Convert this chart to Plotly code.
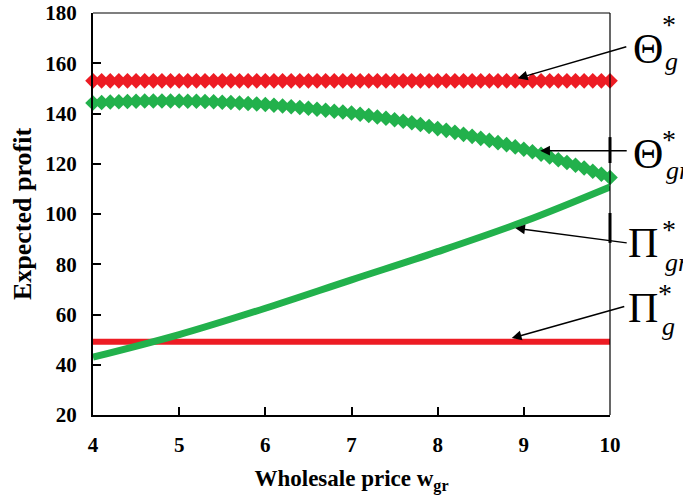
import plotly.graph_objects as go

# ---- data ----
x_fine = [4.0, 4.1, 4.2, 4.3, 4.4, 4.5, 4.6, 4.7, 4.8, 4.9,
          5.0, 5.1, 5.2, 5.3, 5.4, 5.5, 5.6, 5.7, 5.8, 5.9,
          6.0, 6.1, 6.2, 6.3, 6.4, 6.5, 6.6, 6.7, 6.8, 6.9,
          7.0, 7.1, 7.2, 7.3, 7.4, 7.5, 7.6, 7.7, 7.8, 7.9,
          8.0, 8.1, 8.2, 8.3, 8.4, 8.5, 8.6, 8.7, 8.8, 8.9,
          9.0, 9.1, 9.2, 9.3, 9.4, 9.5, 9.6, 9.7, 9.8, 9.9, 10.0]

theta_g = [153, 153, 153, 153, 153, 153, 153, 153, 153, 153,
           153, 153, 153, 153, 153, 153, 153, 153, 153, 153,
           153, 153, 153, 153, 153, 153, 153, 153, 153, 153,
           153, 153, 153, 153, 153, 153, 153, 153, 153, 153,
           153, 153, 153, 153, 153, 153, 153, 153, 153, 153,
           153, 153, 153, 153, 153, 153, 153, 153, 153, 153, 153]

theta_gr = [144.2, 144.4, 144.6, 144.7, 144.8, 144.9, 145.0, 145.0, 145.0, 145.0,
            145.0, 144.9, 144.9, 144.8, 144.7, 144.5, 144.4, 144.2, 144.0, 143.8,
            143.6, 143.3, 143.0, 142.7, 142.4, 142.1, 141.7, 141.3, 140.9, 140.6,
            140.2, 139.7, 139.2, 138.6, 138.1, 137.5, 136.9, 136.3, 135.6, 134.8,
            134.0, 133.3, 132.5, 131.7, 130.9, 130.1, 129.3, 128.4, 127.6, 126.7,
            125.8, 124.8, 123.8, 122.7, 121.6, 120.5, 119.4, 118.3, 117.0, 115.8, 114.5]

x_coarse = [4, 5, 6, 7, 8, 9, 10]
pi_gr = [43.0, 52.0, 62.5, 73.8, 85.0, 97.0, 110.8]

x_flat = [4, 10]
pi_g = [49.2, 49.2]

x_ticks = [4, 5, 6, 7, 8, 9, 10]
y_ticks = [20, 40, 60, 80, 100, 120, 140, 160, 180]

RED = "#ED1C24"
GREEN = "#22B14C"
SERIF = "Liberation Serif, Times New Roman, serif"

fig = go.Figure()
fig.add_trace(go.Scatter(x=x_flat, y=pi_g, mode="lines",
                         line=dict(color=RED, width=6), cliponaxis=False))
fig.add_trace(go.Scatter(x=x_coarse, y=pi_gr, mode="lines",
                         line=dict(color=GREEN, width=7, shape="spline"), cliponaxis=False))
fig.add_trace(go.Scatter(x=x_fine, y=theta_g, mode="markers",
                         marker=dict(symbol="diamond", size=12, color=RED, line=dict(width=0)),
                         cliponaxis=False))
fig.add_trace(go.Scatter(x=x_fine, y=theta_gr, mode="markers",
                         marker=dict(symbol="diamond", size=12, color=GREEN, line=dict(width=0)),
                         cliponaxis=False))

L, R, T, B = 93, 610, 13, 415
W, H = 683, 497


def px(xp):
    return (xp - L) / (R - L)


def py(yp):
    return (B - yp) / (B - T)


ann = []
# big letters
for sym, cx, cy in [("Θ", 648, 49), ("Θ", 648, 154), ("Π", 643, 243), ("Π", 643, 308)]:
    ann.append(dict(text=sym, x=px(cx), y=py(cy), xref="paper", yref="paper",
                    xanchor="center", yanchor="middle", showarrow=False,
                    font=dict(family=SERIF, size=42, color="black")))
# asterisks
for cx, cy in [(669, 24), (669, 139), (669, 229), (665, 293)]:
    ann.append(dict(text="*", x=px(cx), y=py(cy), xref="paper", yref="paper",
                    xanchor="center", yanchor="middle", showarrow=False,
                    font=dict(family=SERIF, size=28, color="black")))
# subscripts
for t, lx, cy in [("g", 663, 62), ("gr", 664, 170), ("gr", 663, 262), ("g", 660, 326)]:
    ann.append(dict(text="<i>%s</i>" % t, x=px(lx), y=py(cy), xref="paper", yref="paper",
                    xanchor="left", yanchor="middle", showarrow=False,
                    font=dict(family=SERIF, size=26, color="black")))
# arrows (head in data coords, tail offset in pixels)
for hx, hy, ax, ay in [(8.93, 154.0, 110, -32), (9.19, 125.2, 88, 0),
                       (8.90, 94.4, 113, 15), (8.86, 50.6, 114, -32)]:
    ann.append(dict(text="", x=hx, y=hy, xref="x", yref="y", ax=ax, ay=ay,
                    axref="pixel", ayref="pixel", showarrow=True, arrowhead=2,
                    arrowsize=1.3, arrowwidth=1.5, arrowcolor="black", standoff=0))

shapes = [
    dict(type="line", xref="paper", yref="paper", x0=0, x1=1, y0=1, y1=1,
         line=dict(color="black", width=1.2)),
    dict(type="line", xref="paper", yref="paper", x0=1, x1=1, y0=0, y1=1,
         line=dict(color="black", width=1.2)),
    dict(type="line", xref="paper", yref="y", x0=1, x1=1, y0=120.3, y1=130.6,
         line=dict(color="black", width=3)),
    dict(type="line", xref="paper", yref="y", x0=1, x1=1, y0=88.5, y1=100.4,
         line=dict(color="black", width=3)),
]

fig.update_layout(
    width=W, height=H,
    margin=dict(l=L, r=W - R, t=T, b=H - B, autoexpand=False),
    paper_bgcolor="white", plot_bgcolor="white",
    showlegend=False,
    annotations=ann, shapes=shapes,
    font=dict(family=SERIF, color="black"),
    xaxis=dict(range=[4, 10], tickvals=x_ticks, ticktext=[str(v) for v in x_ticks],
               ticks="inside", ticklen=8, tickwidth=1.5, tickcolor="black",
               showline=True, linecolor="black", linewidth=2, showgrid=False,
               zeroline=False, ticklabelstandoff=10, automargin=False,
               tickfont=dict(family=SERIF, size=21, color="black", weight="bold"),
               title=dict(text="<b>Wholesale price w<sub>gr</sub></b>", standoff=14,
                          font=dict(family=SERIF, size=23, color="black"))),
    yaxis=dict(range=[20, 180], tickvals=y_ticks, ticktext=[str(v) for v in y_ticks],
               ticks="inside", ticklen=8, tickwidth=1.5, tickcolor="black",
               showline=True, linecolor="black", linewidth=2, showgrid=False,
               zeroline=False, ticklabelstandoff=10, automargin=False,
               tickfont=dict(family=SERIF, size=21, color="black", weight="bold"),
               title=dict(text="<b>Expected profit</b>", standoff=6,
                          font=dict(family=SERIF, size=26, color="black"))),
)

fig.write_html("out.html", config={"displayModeBar": False},
               post_script="document.body.style.margin='0';document.body.style.overflow='hidden';")
